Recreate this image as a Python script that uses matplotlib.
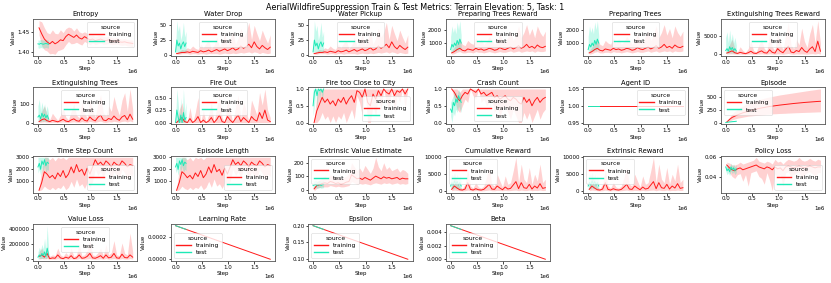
import numpy as np
import matplotlib
matplotlib.use("Agg")
import matplotlib.pyplot as plt

plt.rcParams['font.family'] = ['DejaVu Sans']

TRAIN_C = '#ff1a1a'
TEST_C = '#1de9b6'

# step grids (x positions of the logged points)
train_steps = np.linspace(0.02e6, 1.8e6, 36)
test_steps = np.linspace(0.0, 0.2e6, 9)
line_steps = [0.0, 1.8e6]
line_test_steps = [0.0, 0.2e6]

# ---- Entropy
ent_mean = [1.460, 1.445, 1.432, 1.425, 1.420, 1.426, 1.420, 1.424, 1.430, 1.428, 1.438, 1.444,
            1.440, 1.436, 1.442, 1.435, 1.432, 1.438, 1.434, 1.430, 1.432, 1.428, 1.430, 1.432,
            1.429, 1.428, 1.430, 1.427, 1.426, 1.428, 1.425, 1.424, 1.425, 1.423, 1.422, 1.421]
ent_hi = [1.478, 1.475, 1.460, 1.448, 1.445, 1.455, 1.446, 1.445, 1.455, 1.448, 1.458, 1.462,
          1.460, 1.452, 1.460, 1.450, 1.447, 1.450, 1.446, 1.442, 1.442, 1.438, 1.440, 1.442,
          1.439, 1.437, 1.439, 1.436, 1.434, 1.436, 1.433, 1.432, 1.433, 1.431, 1.430, 1.429]
ent_lo = [1.442, 1.415, 1.405, 1.402, 1.395, 1.396, 1.394, 1.403, 1.405, 1.408, 1.418, 1.426,
          1.420, 1.421, 1.424, 1.420, 1.417, 1.426, 1.422, 1.418, 1.422, 1.418, 1.420, 1.422,
          1.419, 1.419, 1.421, 1.418, 1.418, 1.420, 1.417, 1.416, 1.417, 1.415, 1.414, 1.413]
ent_t_mean = [1.420, 1.419, 1.421, 1.420, 1.419, 1.420, 1.421, 1.420, 1.419]
ent_t_hi = [1.430, 1.429, 1.431, 1.430, 1.429, 1.430, 1.431, 1.430, 1.429]
ent_t_lo = [1.410, 1.409, 1.411, 1.410, 1.409, 1.410, 1.411, 1.410, 1.409]

# ---- Water Drop / Water Pickup
water_mean = [2, 3, 4, 4, 5, 4, 6, 5, 4, 7, 5, 6, 8, 5, 7, 9, 6, 8, 10, 7, 9, 12, 8, 10,
              15, 11, 14, 18, 12, 22, 14, 10, 16, 12, 9, 13]
water_hi = [4, 6, 9, 8, 12, 10, 15, 11, 9, 18, 12, 20, 24, 11, 16, 30, 14, 22, 35, 16, 26, 40, 18, 28,
            45, 30, 38, 55, 26, 50, 36, 24, 42, 30, 20, 34]
water_lo = [1, 1, 2, 2, 2, 1, 2, 2, 1, 2, 2, 1, 2, 2, 2, 2, 1, 2, 3, 2, 2, 3, 2, 3,
            4, 3, 4, 5, 3, 5, 4, 2, 4, 3, 2, 3]
water_t_mean = [5, 25, 15, 20, 10, 18, 22, 14, 20]
water_t_hi = [10, 58, 40, 50, 25, 35, 55, 30, 40]
water_t_lo = [2, 5, 4, 5, 3, 4, 6, 4, 5]

# ---- Preparing Trees (Reward)
pt_mean = [250, 350, 500, 600, 450, 400, 550, 500, 450, 600, 500, 550, 450, 500, 600, 550, 450, 500,
           650, 550, 500, 600, 700, 550, 650, 800, 600, 700, 900, 650, 750, 600, 850, 700, 650, 750]
pt_hi = [400, 700, 1000, 1300, 900, 800, 1200, 1000, 900, 1400, 1000, 1300, 900, 1100, 1500, 1200, 900, 1100,
         1700, 1200, 1000, 1500, 1900, 1200, 1600, 2300, 1400, 1800, 2400, 1600, 2100, 1400, 2300, 1800, 1500, 1900]
pt_lo = [150, 200, 300, 350, 250, 250, 300, 300, 250, 350, 300, 300, 250, 300, 350, 300, 250, 300,
         350, 300, 300, 350, 400, 300, 350, 400, 300, 350, 400, 350, 400, 300, 400, 350, 350, 400]
pt_t_mean = [500, 900, 700, 1000, 800, 1200, 900, 1300, 1000]
pt_t_hi = [1500, 2300, 1800, 2200, 1700, 2600, 2000, 2700, 1600]
pt_t_lo = [200, 400, 300, 450, 350, 500, 400, 600, 500]

# ---- Extinguishing Trees Reward
etr_mean = [300, 600, 900, 400, 200, 500, 300, 150, 400, 800, 300, 200, 600, 900, 400, 300, 1200, 500,
            300, 1500, 800, 400, 1300, 2200, 600, 400, 1000, 700, 1800, 900, 500, 1400, 2000, 700, 3500, 800]
etr_hi = [800, 2500, 4000, 1500, 600, 2000, 1000, 500, 1500, 3500, 1000, 600, 2500, 4000, 1500, 900, 5500, 2000,
          900, 6000, 3000, 1200, 5000, 8500, 2500, 1500, 4000, 2500, 7000, 3500, 1800, 5500, 8000, 3000, 9000, 3000]
etr_lo = [50, 100, 100, 50, 0, 50, 0, 0, 50, 100, 0, 0, 50, 100, 50, 0, 100, 50,
          0, 100, 50, 0, 100, 200, 50, 0, 100, 50, 100, 50, 0, 100, 150, 50, 200, 50]
etr_t_mean = [1000, 1500, 800, 2000, 1200, 1800, 1000, 1500, 900]
etr_t_hi = [4500, 6000, 3000, 6500, 3500, 5500, 3000, 4500, 2500]
etr_t_lo = [200, 300, 200, 400, 300, 400, 200, 300, 200]

# ---- Extinguishing Trees
et_mean = [5, 15, 20, 10, 5, 12, 8, 4, 10, 18, 8, 5, 14, 20, 10, 7, 25, 12,
           8, 30, 16, 9, 28, 40, 14, 10, 22, 16, 35, 20, 12, 30, 38, 15, 45, 18]
et_hi = [20, 60, 90, 40, 15, 50, 30, 12, 40, 80, 30, 15, 60, 100, 40, 25, 110, 50,
         25, 120, 70, 30, 100, 150, 55, 35, 90, 60, 140, 80, 40, 120, 160, 60, 180, 70]
et_lo = [1, 3, 4, 2, 0, 2, 1, 0, 2, 4, 1, 0, 3, 4, 2, 1, 5, 2,
         1, 6, 3, 1, 5, 8, 2, 1, 4, 3, 7, 4, 2, 6, 8, 3, 9, 3]
et_t_mean = [30, 40, 20, 50, 30, 45, 25, 40, 20]
et_t_hi = [90, 125, 60, 110, 70, 100, 60, 90, 50]
et_t_lo = [5, 8, 4, 10, 6, 9, 5, 8, 4]

# ---- Fire Out
fo_mean = [0.0, 0.05, 0.1, 0.02, 0.0, 0.08, 0.0, 0.04, 0.12, 0.0, 0.05, 0.0, 0.03, 0.1, 0.0, 0.06, 0.15, 0.02,
           0.0, 0.12, 0.05, 0.0, 0.08, 0.15, 0.02, 0.1, 0.05, 0.0, 0.12, 0.06, 0.03, 0.2, 0.08, 0.25, 0.05, 0.02]
fo_hi = [0.0, 0.25, 0.4, 0.1, 0.0, 0.3, 0.0, 0.2, 0.5, 0.0, 0.25, 0.0, 0.15, 0.4, 0.0, 0.3, 0.55, 0.1,
         0.0, 0.45, 0.25, 0.0, 0.3, 0.55, 0.1, 0.4, 0.25, 0.0, 0.45, 0.3, 0.15, 0.6, 0.35, 0.67, 0.25, 0.1]
fo_lo = [0.0, 0.0, 0.0, 0.0, 0.0, 0.0, 0.0, 0.0, 0.0, 0.0, 0.0, 0.0, 0.0, 0.0, 0.0, 0.0, 0.0, 0.0,
         0.0, 0.0, 0.0, 0.0, 0.0, 0.0, 0.0, 0.0, 0.0, 0.0, 0.0, 0.0, 0.0, 0.0, 0.0, 0.0, 0.0, 0.0]
fo_t_mean = [0.0, 0.25, 0.1, 0.0, 0.15, 0.0, 0.2, 0.05, 0.1]
fo_t_hi = [0.0, 0.67, 0.4, 0.0, 0.5, 0.0, 0.67, 0.2, 0.4]
fo_t_lo = [0.0, 0.0, 0.0, 0.0, 0.0, 0.0, 0.0, 0.0, 0.0]
fo_yticks = [0.0, 0.25, 0.5]

# ---- Fire too Close to City
fc_mean = [0.0, 0.35, 0.55, 0.75, 0.6, 0.7, 0.55, 0.65, 0.5, 0.7, 0.6, 0.75, 0.55, 0.7, 0.8, 0.6, 0.95, 0.9,
           0.75, 1.0, 0.6, 0.5, 0.85, 0.7, 0.95, 0.8, 1.0, 0.9, 0.85, 1.0, 0.8, 0.95, 0.9, 1.0, 0.85, 1.0]
fc_hi = [0.1, 0.8, 1, 1, 1, 1, 1, 1, 1, 1, 1, 1, 1, 1, 1, 1, 1, 1,
         1, 1, 1, 1, 1, 1, 1, 1, 1, 1, 1, 1, 1, 1, 1, 1, 1, 1]
fc_lo = [0.0, 0.0, 0.1, 0.3, 0.1, 0.2, 0.0, 0.2, 0.0, 0.2, 0.1, 0.3, 0.0, 0.2, 0.4, 0.1, 0.8, 0.6,
         0.2, 1.0, 0.0, 0.0, 0.5, 0.2, 0.8, 0.4, 1.0, 0.6, 0.4, 1.0, 0.3, 0.8, 0.6, 1.0, 0.4, 1.0]
fc_t_mean = [0.5, 0.9, 1.0, 0.8, 1.0, 0.95, 1.0, 0.9, 1.0]
fc_t_hi = [1, 1, 1, 1, 1, 1, 1, 1, 1]
fc_t_lo = [0.2, 0.5, 1.0, 0.4, 1.0, 0.7, 1.0, 0.6, 1.0]

# ---- Crash Count
cc_mean = [1.0, 0.9, 0.75, 0.65, 0.8, 0.9, 0.85, 1.0, 0.95, 0.9, 1.0, 0.85, 0.9, 0.8, 0.85, 0.9, 0.75, 0.8,
           0.7, 0.75, 0.8, 0.7, 0.65, 0.75, 0.7, 0.6, 0.55, 0.75, 0.6, 0.7, 0.5, 0.65, 0.75, 0.6, 0.7, 0.75]
cc_hi = [1, 1, 1, 0.9, 1, 1, 1, 1, 1, 1, 1, 1, 1, 1, 1, 1, 1, 1,
         1, 1, 1, 1, 1, 1, 1, 1, 1, 1, 1, 1, 1, 1, 1, 1, 1, 1]
cc_lo = [1.0, 0.7, 0.4, 0.3, 0.5, 0.7, 0.6, 1.0, 0.8, 0.7, 1.0, 0.6, 0.7, 0.5, 0.6, 0.7, 0.3, 0.5,
         0.2, 0.4, 0.5, 0.3, 0.1, 0.4, 0.2, 0.0, 0.0, 0.3, 0.1, 0.3, 0.0, 0.2, 0.4, 0.1, 0.3, 0.4]
cc_t_mean = [0.4, 0.3, 0.6, 0.5, 0.7, 0.6, 0.8, 0.7, 0.6]
cc_t_hi = [0.6, 0.7, 0.8, 0.9, 0.9, 0.8, 1.0, 0.9, 0.8]
cc_t_lo = [0.2, 0.0, 0.3, 0.2, 0.4, 0.3, 0.5, 0.4, 0.3]

# ---- Agent ID
aid_train = [1.0, 1.0]
aid_test = [1.0, 1.0]

# ---- Episode
ep_mean = [10, 60, 100, 125, 150, 170, 190, 205, 220, 235, 250, 262, 275, 285, 295, 305, 312, 320,
           328, 335, 342, 348, 354, 360, 366, 372, 377, 382, 387, 392, 396, 400, 404, 408, 412, 415]
ep_hi = [20, 100, 170, 220, 260, 295, 325, 350, 375, 395, 415, 430, 445, 460, 475, 490, 500, 510,
         520, 530, 540, 548, 556, 564, 572, 580, 588, 596, 604, 612, 620, 628, 635, 642, 650, 655]
ep_lo = [0, 30, 55, 70, 85, 95, 105, 115, 125, 130, 135, 140, 145, 150, 155, 160, 165, 170,
         172, 175, 178, 180, 182, 185, 187, 190, 192, 194, 196, 198, 200, 202, 204, 206, 208, 210]
ep_t_mean = [0, 5, 10, 12, 15, 18, 20, 22, 25]
ep_t_hi = [3, 8, 13, 15, 18, 21, 23, 25, 28]
ep_t_lo = [0, 2, 7, 9, 12, 15, 17, 19, 22]

# ---- Time Step Count / Episode Length
ts_mean = [250, 900, 1800, 1600, 1300, 1500, 1200, 1700, 1400, 1900, 1300, 1600, 2200, 1700, 2400, 1800, 2000, 1500,
           2100, 1600, 2200, 2800, 2400, 2600, 2300, 2700, 2500, 2200, 2600, 2400, 2300, 2700, 2500, 2200, 2400, 2300]
ts_hi = [400, 2000, 3000, 3000, 2800, 3000, 2700, 3000, 2900, 3000, 2800, 3000, 3000, 3000, 3000, 3000, 3000, 3000,
         3000, 3000, 3000, 3000, 3000, 3000, 3000, 3000, 3000, 3000, 3000, 3000, 3000, 3000, 3000, 3000, 3000, 3000]
ts_lo = [200, 300, 600, 400, 300, 500, 300, 500, 400, 700, 300, 500, 1000, 500, 1200, 600, 800, 400,
         900, 500, 1000, 2000, 1500, 1800, 1300, 2000, 1800, 1200, 1800, 1500, 1300, 2000, 1700, 1200, 1600, 1400]
ts_t_mean = [2200, 2500, 2000, 2700, 2400, 2800, 2300, 2600, 2500]
ts_t_hi = [3000, 3000, 3000, 3000, 3000, 3000, 3000, 3000, 3000]
ts_t_lo = [1700, 2000, 1500, 2200, 1800, 2300, 1700, 2000, 1900]

# ---- Extrinsic Value Estimate
eve_mean = [5, 30, 35, 45, 50, 45, 60, 55, 45, 50, 40, 45, 55, 60, 110, 95, 80, 85,
            75, 90, 80, 70, 85, 100, 90, 80, 95, 85, 90, 80, 85, 90, 75, 85, 80, 80]
eve_hi = [20, 60, 70, 90, 100, 80, 110, 100, 90, 95, 80, 90, 100, 120, 200, 170, 140, 160,
          130, 180, 150, 120, 160, 240, 170, 140, 200, 150, 170, 140, 150, 160, 130, 150, 140, 120]
eve_lo = [-10, 10, 15, 20, 20, 20, 30, 25, 20, 25, 20, 20, 25, 30, 60, 50, 40, 45,
          40, 45, 40, 35, 45, 50, 45, 40, 50, 45, 50, 40, 45, 50, 40, 45, 40, 45]
eve_t_mean = [30, 35, 40, 30, 35, 40, 30, 35, 40]
eve_t_hi = [60, 65, 70, 60, 65, 70, 60, 65, 70]
eve_t_lo = [10, 12, 15, 10, 12, 15, 10, 12, 15]

# ---- Cumulative Reward / Extrinsic Reward
cr_mean = [500, 1500, 900, 400, 300, 600, 2500, 500, 300, 700, 400, 300, 500, 1200, 2000, 600, 500, 1500,
           900, 400, 1200, 600, 800, 1800, 2800, 700, 2500, 1000, 800, 2000, 600, 1500, 900, 2200, 800, 1000]
cr_hi = [1500, 4500, 3000, 1200, 800, 2000, 6500, 1500, 900, 2500, 1200, 900, 1500, 4000, 7000, 2000, 1500, 5000,
         3000, 1200, 4500, 2000, 2500, 6000, 10000, 2500, 8000, 3500, 2500, 7000, 2000, 5000, 3000, 8000, 2500, 3500]
cr_lo = [100, 300, 200, 100, 50, 100, 300, 100, 50, 150, 100, 50, 100, 200, 300, 100, 100, 200,
         150, 100, 200, 100, 150, 250, 300, 100, 300, 150, 150, 300, 100, 200, 150, 300, 150, 200]
cr_t_mean = [1500, 2500, 1800, 3000, 2000, 2800, 1800, 2500, 1500]
cr_t_hi = [4000, 5000, 4500, 5500, 4000, 5000, 3500, 4500, 3000]
cr_t_lo = [500, 800, 600, 1000, 700, 900, 600, 800, 500]

# ---- Policy Loss
pl_mean = [0.052, 0.049, 0.047, 0.046, 0.048, 0.049, 0.047, 0.048, 0.049, 0.050, 0.051, 0.052,
           0.050, 0.049, 0.048, 0.050, 0.049, 0.047, 0.050, 0.048, 0.049, 0.046, 0.050, 0.051,
           0.050, 0.049, 0.050, 0.051, 0.050, 0.049, 0.050, 0.051, 0.050, 0.049, 0.050, 0.050]
pl_hi = [0.055, 0.054, 0.052, 0.052, 0.053, 0.055, 0.053, 0.054, 0.055, 0.056, 0.057, 0.060,
         0.056, 0.055, 0.054, 0.056, 0.055, 0.053, 0.058, 0.055, 0.056, 0.053, 0.056, 0.058,
         0.057, 0.056, 0.057, 0.060, 0.057, 0.056, 0.057, 0.059, 0.057, 0.056, 0.058, 0.057]
pl_lo = [0.049, 0.044, 0.040, 0.038, 0.042, 0.043, 0.035, 0.042, 0.030, 0.044, 0.045, 0.046,
         0.040, 0.038, 0.032, 0.044, 0.036, 0.025, 0.043, 0.038, 0.042, 0.030, 0.044, 0.045,
         0.040, 0.042, 0.044, 0.045, 0.038, 0.042, 0.044, 0.045, 0.043, 0.040, 0.044, 0.044]
pl_t_mean = [0.050, 0.046, 0.048, 0.045, 0.050, 0.047, 0.049, 0.046, 0.048]
pl_t_hi = [0.054, 0.050, 0.052, 0.049, 0.054, 0.051, 0.053, 0.050, 0.052]
pl_t_lo = [0.046, 0.042, 0.044, 0.041, 0.046, 0.043, 0.045, 0.042, 0.044]

# ---- Value Loss
vl_mean = [40000, 60000, 30000, 80000, 10000, 20000, 15000, 60000, 20000, 10000, 30000, 15000,
           50000, 10000, 20000, 60000, 15000, 20000, 40000, 80000, 20000, 15000, 30000, 50000,
           15000, 60000, 20000, 30000, 80000, 20000, 15000, 70000, 25000, 20000, 60000, 30000]
vl_hi = [100000, 150000, 80000, 150000, 40000, 60000, 50000, 150000, 60000, 40000, 90000, 50000,
         150000, 40000, 60000, 200000, 50000, 60000, 120000, 250000, 60000, 50000, 90000, 150000,
         50000, 200000, 60000, 90000, 250000, 60000, 50000, 220000, 80000, 60000, 350000, 100000]
vl_lo = [5000, 10000, 5000, 10000, 2000, 3000, 2000, 10000, 3000, 2000, 5000, 2000,
         8000, 2000, 3000, 10000, 2000, 3000, 6000, 10000, 3000, 2000, 5000, 8000,
         2000, 10000, 3000, 5000, 10000, 3000, 2000, 10000, 4000, 3000, 10000, 5000]
vl_t_mean = [30000, 60000, 40000, 80000, 50000, 100000, 40000, 150000, 60000]
vl_t_hi = [100000, 160000, 120000, 200000, 140000, 280000, 120000, 450000, 150000]
vl_t_lo = [5000, 10000, 8000, 15000, 10000, 20000, 8000, 30000, 10000]

# ---- schedules (start / end values)
lr_train = [0.0003, 0.0]
lr_test = [0.0003, 0.000267]
eps_train = [0.2, 0.1]
eps_test = [0.2, 0.1889]
beta_train = [0.005, 0.0]
beta_test = [0.005, 0.00444]

titles = ["Entropy", "Water Drop", "Water Pickup", "Preparing Trees Reward", "Preparing Trees",
          "Extinguishing Trees Reward", "Extinguishing Trees", "Fire Out", "Fire too Close to City",
          "Crash Count", "Agent ID", "Episode", "Time Step Count", "Episode Length",
          "Extrinsic Value Estimate", "Cumulative Reward", "Extrinsic Reward", "Policy Loss",
          "Value Loss", "Learning Rate", "Epsilon", "Beta"]

# (train mean, lo, hi, test mean, lo, hi) or (train line, test line) for schedules
series = [
    (ent_mean, ent_lo, ent_hi, ent_t_mean, ent_t_lo, ent_t_hi),
    (water_mean, water_lo, water_hi, water_t_mean, water_t_lo, water_t_hi),
    (water_mean, water_lo, water_hi, water_t_mean, water_t_lo, water_t_hi),
    (pt_mean, pt_lo, pt_hi, pt_t_mean, pt_t_lo, pt_t_hi),
    (pt_mean, pt_lo, pt_hi, pt_t_mean, pt_t_lo, pt_t_hi),
    (etr_mean, etr_lo, etr_hi, etr_t_mean, etr_t_lo, etr_t_hi),
    (et_mean, et_lo, et_hi, et_t_mean, et_t_lo, et_t_hi),
    (fo_mean, fo_lo, fo_hi, fo_t_mean, fo_t_lo, fo_t_hi),
    (fc_mean, fc_lo, fc_hi, fc_t_mean, fc_t_lo, fc_t_hi),
    (cc_mean, cc_lo, cc_hi, cc_t_mean, cc_t_lo, cc_t_hi),
    (aid_train, aid_test),
    (ep_mean, ep_lo, ep_hi, ep_t_mean, ep_t_lo, ep_t_hi),
    (ts_mean, ts_lo, ts_hi, ts_t_mean, ts_t_lo, ts_t_hi),
    (ts_mean, ts_lo, ts_hi, ts_t_mean, ts_t_lo, ts_t_hi),
    (eve_mean, eve_lo, eve_hi, eve_t_mean, eve_t_lo, eve_t_hi),
    (cr_mean, cr_lo, cr_hi, cr_t_mean, cr_t_lo, cr_t_hi),
    (cr_mean, cr_lo, cr_hi, cr_t_mean, cr_t_lo, cr_t_hi),
    (pl_mean, pl_lo, pl_hi, pl_t_mean, pl_t_lo, pl_t_hi),
    (vl_mean, vl_lo, vl_hi, vl_t_mean, vl_t_lo, vl_t_hi),
    (lr_train, lr_test),
    (eps_train, eps_test),
    (beta_train, beta_test),
]

legend_locs = ["upper right", "upper center", "upper center", "upper center", "upper center",
               "upper center", "upper center", "upper center", "lower right", "lower center",
               "upper right", "upper left", "lower right", "lower right", "upper left",
               "upper left", "upper left", "lower right", "upper center", "lower left",
               "lower left", "lower left"]

FS = 4.0

fig, axes = plt.subplots(4, 6, figsize=(8.31, 2.83), dpi=100)
fig.subplots_adjust(left=0.04, right=0.993, top=0.933, bottom=0.078, hspace=0.85, wspace=0.32)
fig.suptitle("AerialWildfireSuppression Train & Test Metrics: Terrain Elevation: 5, Task: 1",
             fontsize=5.8, y=0.99)

for i, ax in enumerate(axes.flat):
    if i >= len(titles):
        ax.axis('off')
        continue
    s = series[i]
    if len(s) == 6:
        m, lo, hi, tm, tlo, thi = s
        ax.fill_between(train_steps, lo, hi, color=TRAIN_C, alpha=0.2, lw=0)
        ax.plot(train_steps, m, color=TRAIN_C, lw=0.7, label="training")
        ax.fill_between(test_steps, tlo, thi, color=TEST_C, alpha=0.25, lw=0)
        ax.plot(test_steps, tm, color=TEST_C, lw=0.7, label="test")
    else:
        tr, te = s
        ax.plot(line_steps, tr, color=TRAIN_C, lw=0.7, label="training")
        ax.plot(line_test_steps, te, color=TEST_C, lw=0.7, label="test")
    ax.set_title(titles[i], fontsize=4.9, pad=2)
    ax.set_xlabel("Step", fontsize=FS, labelpad=1)
    ax.set_ylabel("Value", fontsize=FS, labelpad=1)
    ax.tick_params(labelsize=FS, length=1.8, width=0.5, pad=1)
    ax.xaxis.get_offset_text().set_fontsize(FS)
    ax.yaxis.get_offset_text().set_fontsize(FS)
    for sp in ax.spines.values():
        sp.set_linewidth(0.6)
        sp.set_color('#555555')
    ax.set_xticks([0, 0.5e6, 1.0e6, 1.5e6])
    if titles[i] == "Fire Out":
        ax.set_yticks(fo_yticks)
    leg = ax.legend(title="source", loc=legend_locs[i], fontsize=4.3, title_fontsize=4.3,
                    handlelength=2.4, borderpad=0.45, labelspacing=0.35, framealpha=0.8)
    leg.get_frame().set_linewidth(0.4)
    for h in leg.get_lines():
        h.set_linewidth(1.0)

fig.savefig("out.png", dpi=100)
